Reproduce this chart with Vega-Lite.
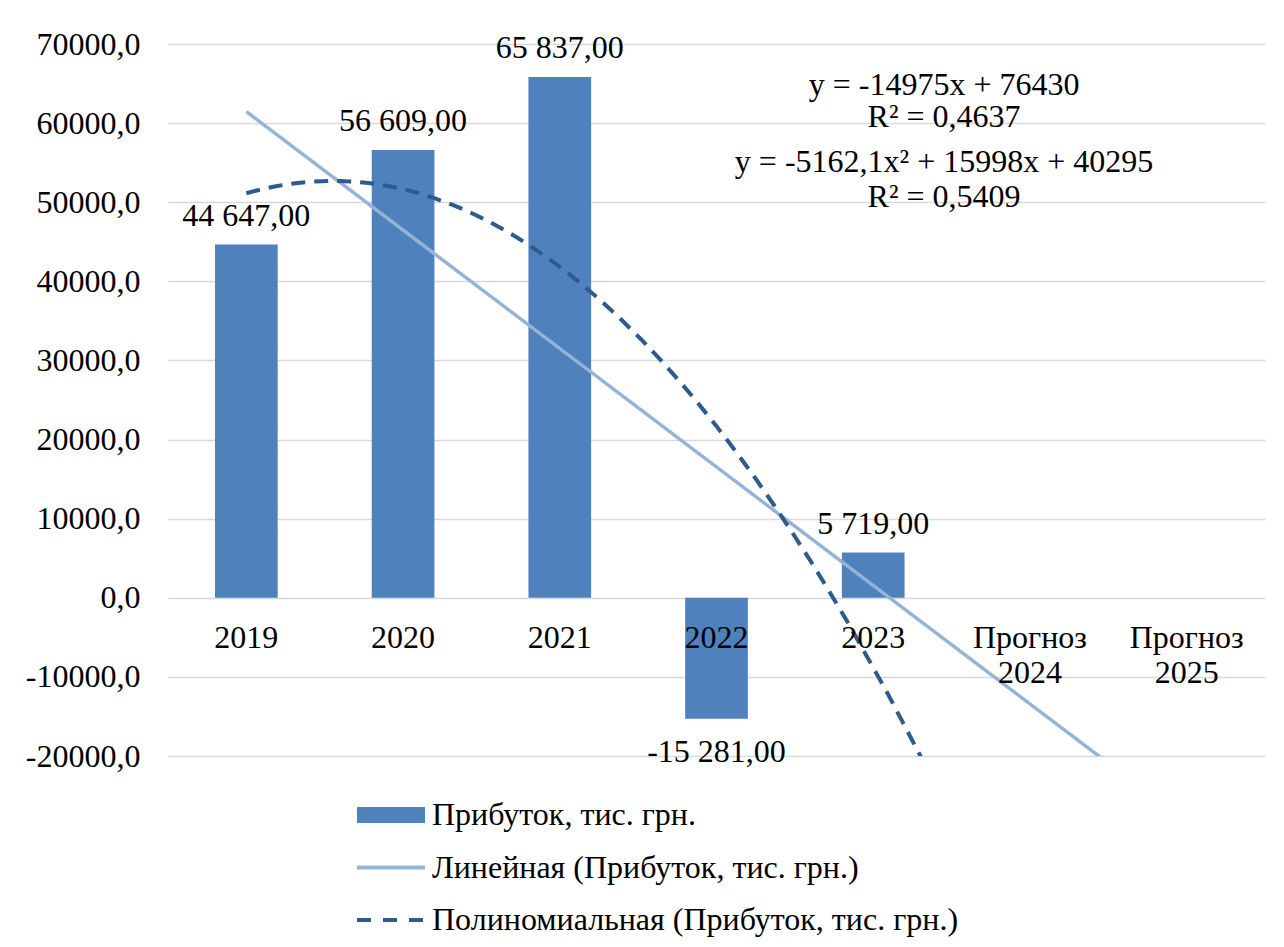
{
  "$schema": "https://vega.github.io/schema/vega-lite/v6.json",
  "width": 1097,
  "height": 712,
  "autosize": {"type": "none"},
  "padding": {"left": 168, "top": 44, "right": 19, "bottom": 191},
  "background": "white",
  "config": {
    "font": "Liberation Serif",
    "view": {"stroke": null},
    "locale": {"number": {"decimal": ",", "thousands": " ", "grouping": [3], "currency": ["", ""], "minus": "-"}},
    "axis": {"labelFont": "Liberation Serif", "labelFontSize": 32, "labelColor": "#000000", "domain": false, "ticks": false, "tickSize": 0, "title": null},
    "text": {"font": "Liberation Serif", "fontSize": 32, "color": "#000000"}
  },
  "data": {"values": [
    {"cat": "2019", "i": 1, "profit": 44647},
    {"cat": "2020", "i": 2, "profit": 56609},
    {"cat": "2021", "i": 3, "profit": 65837},
    {"cat": "2022", "i": 4, "profit": -15281},
    {"cat": "2023", "i": 5, "profit": 5719},
    {"cat": "Прогноз 2024", "i": 6, "profit": null},
    {"cat": "Прогноз 2025", "i": 7, "profit": null}
  ]},
  "resolve": {"scale": {"x": "independent"}},
  "layer": [
    {
      "encoding": {
        "x": {
          "field": "cat", "type": "nominal", "sort": null,
          "scale": {"domain": ["2019", "2020", "2021", "2022", "2023", "Прогноз 2024", "Прогноз 2025"], "paddingInner": 0.6, "paddingOuter": 0.3},
          "axis": {"offset": -158.2, "labelPadding": 25, "zindex": 1, "grid": false, "labelAngle": 0, "labelExpr": "split(datum.label, ' ')", "labelLineHeight": 35, "labelBaseline": "top"}
        },
        "y": {
          "field": "profit", "type": "quantitative",
          "scale": {"domain": [-20000, 70000], "nice": false, "zero": false},
          "axis": {"values": [-20000, -10000, 0, 10000, 20000, 30000, 40000, 50000, 60000, 70000], "format": ".1f", "grid": true, "gridColor": "#D9D9D9", "gridWidth": 1.5, "labelPadding": 28, "zindex": 0}
        }
      },
      "layer": [
        {
          "mark": {"type": "bar"},
          "encoding": {
            "color": {
              "datum": "Прибуток, тис. грн.",
              "scale": {
                "domain": ["Прибуток, тис. грн.", "Линейная (Прибуток, тис. грн.)", "Полиномиальная (Прибуток, тис. грн.)"],
                "range": ["#4F81BD", "#95B3D7", "#2E5B8C"]
              },
              "legend": {
                "orient": "none", "legendX": 207, "legendY": 755, "direction": "vertical", "title": null,
                "labelFont": "Liberation Serif", "labelFontSize": 32, "labelColor": "#000000",
                "symbolSize": 1024, "labelOffset": 25, "rowPadding": 20.5, "padding": 0, "labelLimit": 1000,
                "encode": {
                  "symbols": {
                    "update": {
                      "shape": {"signal": "datum.index === 0 ? 'M-2.125,-0.5H2.125V0.5H-2.125Z' : 'M-2.125,0H2.125'"},
                      "fill": {"signal": "datum.index === 0 ? scale('color', datum.value) : 'transparent'"},
                      "stroke": {"signal": "scale('color', datum.value)"},
                      "strokeWidth": {"signal": "datum.index === 0 ? 0 : 4"},
                      "strokeDash": {"signal": "datum.index === 2 ? [14, 12] : [1, 0]"},
                      "opacity": {"value": 1}
                    }
                  }
                }
              }
            }
          }
        },
        {
          "transform": [{"filter": "datum.profit >= 0"}],
          "mark": {"type": "text", "baseline": "alphabetic", "dy": -19},
          "encoding": {"text": {"field": "profit", "type": "quantitative", "format": ",.2f"}}
        },
        {
          "transform": [{"filter": "datum.profit < 0"}],
          "mark": {"type": "text", "baseline": "alphabetic", "dy": 43},
          "encoding": {"text": {"field": "profit", "type": "quantitative", "format": ",.2f"}}
        }
      ]
    },
    {
      "encoding": {
        "x": {"field": "i", "type": "quantitative", "scale": {"domain": [0.5, 7.5], "nice": false, "zero": false}, "axis": null}
      },
      "layer": [
        {
          "transform": [{"regression": "profit", "on": "i", "method": "linear", "extent": [1, 7]}],
          "mark": {"type": "line", "clip": true, "strokeWidth": 3.5, "strokeCap": "butt"},
          "encoding": {
            "y": {"field": "profit", "type": "quantitative"},
            "color": {"datum": "Линейная (Прибуток, тис. грн.)"}
          }
        },
        {
          "transform": [{"regression": "profit", "on": "i", "method": "poly", "order": 2, "extent": [1, 7]}],
          "mark": {"type": "line", "clip": true, "strokeWidth": 4, "strokeDash": [14, 9], "strokeCap": "butt"},
          "encoding": {
            "y": {"field": "profit", "type": "quantitative"},
            "color": {"datum": "Полиномиальная (Прибуток, тис. грн.)"}
          }
        },
        {
          "data": {"values": [
            {"eq": "linear", "pos": 5.452, "line1": "y = -14975x + 76430", "line2": "R² = 0,4637"},
            {"eq": "poly", "pos": 5.452, "line1": "y = -5162,1x² + 15998x + 40295", "line2": "R² = 0,5409"}
          ]},
          "transform": [{"filter": "datum.eq === 'linear'"}],
          "mark": {"type": "text", "baseline": "alphabetic", "align": "center"},
          "encoding": {
            "x": {"field": "pos", "type": "quantitative"},
            "y": {"datum": 63557, "type": "quantitative"},
            "text": {"field": "line1", "type": "nominal"}
          }
        },
        {
          "data": {"values": [
            {"eq": "linear", "pos": 5.452, "line1": "y = -14975x + 76430", "line2": "R² = 0,4637"},
            {"eq": "poly", "pos": 5.452, "line1": "y = -5162,1x² + 15998x + 40295", "line2": "R² = 0,5409"}
          ]},
          "transform": [{"filter": "datum.eq === 'linear'"}],
          "mark": {"type": "text", "baseline": "alphabetic", "align": "center"},
          "encoding": {
            "x": {"field": "pos", "type": "quantitative"},
            "y": {"datum": 59510, "type": "quantitative"},
            "text": {"field": "line2", "type": "nominal"}
          }
        },
        {
          "data": {"values": [
            {"eq": "linear", "pos": 5.452, "line1": "y = -14975x + 76430", "line2": "R² = 0,4637"},
            {"eq": "poly", "pos": 5.452, "line1": "y = -5162,1x² + 15998x + 40295", "line2": "R² = 0,5409"}
          ]},
          "transform": [{"filter": "datum.eq === 'poly'"}],
          "mark": {"type": "text", "baseline": "alphabetic", "align": "center"},
          "encoding": {
            "x": {"field": "pos", "type": "quantitative"},
            "y": {"datum": 53862, "type": "quantitative"},
            "text": {"field": "line1", "type": "nominal"}
          }
        },
        {
          "data": {"values": [
            {"eq": "linear", "pos": 5.452, "line1": "y = -14975x + 76430", "line2": "R² = 0,4637"},
            {"eq": "poly", "pos": 5.452, "line1": "y = -5162,1x² + 15998x + 40295", "line2": "R² = 0,5409"}
          ]},
          "transform": [{"filter": "datum.eq === 'poly'"}],
          "mark": {"type": "text", "baseline": "alphabetic", "align": "center"},
          "encoding": {
            "x": {"field": "pos", "type": "quantitative"},
            "y": {"datum": 49436, "type": "quantitative"},
            "text": {"field": "line2", "type": "nominal"}
          }
        }
      ]
    }
  ]
}
